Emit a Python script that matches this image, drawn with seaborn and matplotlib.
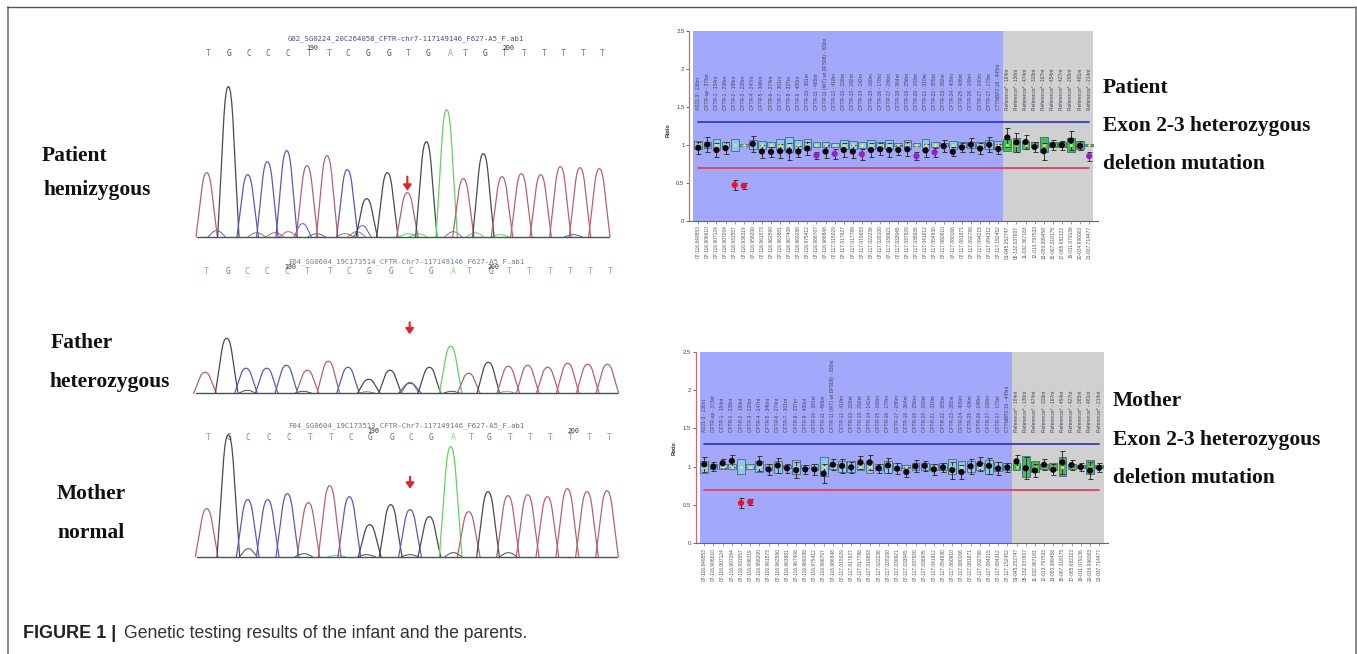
import matplotlib
matplotlib.use("Agg")
import matplotlib.pyplot as plt
from matplotlib.path import Path
from matplotlib.patches import PathPatch
import numpy as np
import pandas as pd
import seaborn as sns

W, H = 1357, 654

# ---------- sequencing traces ----------
patient_bases = list("TGCCCTTCGGTGATGTTTTTT")
parent_bases = list("TGCCCTTCGGCGATGTTTTTT")
patient_pos = [50,115,173,232,290,351,411,472,530,592,652,709,770,820,880,936,994,1052,1111,1170,1228]
patient_height = [64,150,62,75,86,71,81,67,38,64,44,95,127,58,83,60,63,62,70,69,68]
patient_label_pos = [55,118,177,235,295,358,417,475,535,597,656,715,780,827,885,944,1002,1062,1120,1179,1238]
patient_minor = [(80,6,'C'),(200,4,'T'),(255,4,'T'),(295,5,'T'),(338,13,'C'),(380,3,'C'),(465,3,'T'),(500,5,'T'),(517,11,'C'),(655,3,'A'),(685,3,'A'),(790,5,'T'),(855,4,'A'),(930,2,'A'),(1150,2,'C')]

father_pos = [45,110,168,230,289,352,415,474,536,600,660,718,782,836,895,955,1013,1073,1133,1193,1252]
father_height = [21,55,25,25,28,23,32,26,14,23,10,26,47,20,31,27,28,26,30,29,29]
father_label_pos = [50,115,170,230,290,353,420,478,538,604,663,722,790,837,903,958,1017,1081,1141,1201,1260]
father_minor = [(660,11,'T'),(172,3,'G'),(340,2,'G'),(785,2,'G'),(950,2,'A'),(530,1.5,'T')]

mother_pos = [50,115,173,233,292,355,419,478,539,602,660,718,782,836,894,954,1013,1072,1132,1191,1251]
mother_height = [48,122,57,57,63,54,71,60,32,52,47,40,110,45,65,61,62,60,68,65,66]
mother_label_pos = [55,118,173,238,298,361,423,482,540,606,664,724,790,843,897,961,1021,1080,1140,1199,1258]
mother_minor = [(175,8,'G'),(342,3,'G'),(530,2,'G'),(660,2,'G'),(790,4,'G'),(955,4,'G'),(440,1.5,'A')]

patient_title = "G02_SG0224_20C264058_CFTR-chr7-117149146_F627-A5_F.ab1"
father_title = "E04_SG0604_19C173514_CFTR-Chr7-117149146_F627-A5_F.ab1"
mother_title = "F04_SG0604_19C173513_CFTR-Chr7-117149146_F627-A5_F.ab1"

# ---------- ratio panels ----------
top_labels_patient = ["AS21-3 - 136nt","CFTR-up - 373nt","CFTR-1 - 154nt","CFTR-1 - 238nt","CFTR-2 - 199nt","CFTR-3 - 220nt",
    "CFTR-4 - 247nt","CFTR-5 - 346nt","CFTR-6 - 274nt","CFTR-7 - 301nt","CFTR-8 - 337nt","CFTR-9 - 400nt","CFTR-10 - 391nt",
    "CFTR-11 - 465nt","CFTR-11 (WT) wt DF508) - 330nt","CFTR-12 - 418nt","CFTR-13 - 226nt","CFTR-13 - 292nt","CFTR-14 - 142nt",
    "CFTR-15 - 160nt","CFTR-16 - 178nt","CFTR-17 - 286nt","CFTR-18 - 364nt","CFTR-19 - 256nt","CFTR-20 - 283nt","CFTR-21 - 310nt",
    "CFTR-22 - 355nt","CFTR-23 - 382nt","CFTR-24 - 409nt","CFTR-25 - 436nt","CFTR-26 - 148nt","CFTR-27 - 190nt","CFTR-27 - 173nt",
    "CTTNBP2-18 - 445nt","Reference* - 184nt","Reference* - 130nt","Reference* - 474nt","Reference* - 319nt","Reference* - 167nt",
    "Reference* - 454nt","Reference* - 427nt","Reference* - 265nt","Reference* - 481nt","Reference* - 214nt"]
bottom_labels = ["07-116.849553","07-116.906610","07-116.907124","07-116.907264","07-116.931557","07-116.936319","07-116.958200",
    "07-116.961573","07-116.962590","07-116.963881","07-116.967408","07-116.969288","07-116.975412","07-116.986767","07-116.986848",
    "07-117.015029","07-117.017627","07-117.017788","07-117.019653","07-117.022236","07-117.028100","07-117.030921","07-117.033945",
    "07-117.037820","07-117.038935","07-117.041912","07-117.054830","07-117.060910","07-117.080166","07-117.081971","07-117.092786",
    "07-117.094215","07-117.094312","07-117.152452","01-045.252747","05-132.037607","11-032.367183","12-013.797533","13-050.399458",
    "15-067.318175","17-065.682122","19-011.079136","20-034.996003","21-037.714477"]

patient_ratio = [.96,1.0,.93,.955,.47,.46,1.01,.91,.905,.915,.915,.91,.95,.86,.91,.88,.93,.91,.875,.93,.94,.93,.93,.94,.85,.925,.90,.98,.905,.965,1.0,.95,1.0,.945,1.095,1.03,1.035,.97,.915,.995,.995,1.055,.985,.85]
patient_err = [.08,.1,.09,.08,.06,.04,.1,.08,.07,.09,.11,.07,.09,.05,.08,.07,.09,.08,.07,.09,.08,.09,.06,.09,.05,.09,.06,.08,.06,.06,.09,.07,.1,.07,.13,.12,.09,.07,.11,.07,.06,.13,.06,.06]
patient_box = [.05,.04,.07,.03,.08,.015,.06,.05,.03,.07,.1,.06,.07,.03,.03,.025,.06,.05,.04,.06,.04,.06,.02,.06,.02,.07,.03,.02,.05,.03,.04,.04,.06,.05,.08,.09,.05,.03,.1,.03,.03,.09,.05,.015]
patient_state = ["n"]*44
for i_ in (4,5): patient_state[i_] = "del"
for i_ in (13,15,18,24,26,43): patient_state[i_] = "low"

mother_ratio = [1.03,1.0,1.045,1.075,.525,.54,1.045,.965,1.015,.98,.955,.965,.965,.91,1.025,1.01,.99,1.055,1.055,.98,1.015,.975,.93,1.005,1.01,.965,.99,.955,.93,1.005,1.035,1.01,.975,.99,1.07,.98,.95,1.025,.96,1.055,1.02,.995,.95,.985]
mother_err = [.1,.06,.06,.08,.06,.04,.1,.07,.1,.06,.1,.06,.07,.12,.07,.09,.07,.08,.1,.06,.1,.07,.06,.08,.07,.07,.06,.11,.09,.1,.09,.1,.08,.06,.08,.14,.08,.07,.07,.15,.07,.05,.11,.06]
mother_box = [.08,.03,.03,.03,.1,.03,.07,.04,.08,.02,.09,.02,.04,.12,.03,.07,.07,.05,.08,.04,.08,.05,.02,.05,.05,.04,.05,.1,.07,.07,.05,.09,.06,.05,.05,.14,.07,.03,.05,.12,.03,.02,.09,.02]
mother_state = ["n"]*44
for i_ in (4,5): mother_state[i_] = "del"

ratio_ticks = [0, 0.5, 1, 1.5, 2, 2.5]
ratio_tick_labels = ["0", "0.5", "1", "1.5", "2", "2.5"]
upper_limit = 1.3
lower_limit = 0.7

BASE_COLOR = {"T": "#b5636c", "G": "#4a4a4a", "C": "#5a5ab8", "A": "#62d262"}

sns.set_theme(style="white")
plt.rcParams["font.family"] = ["Liberation Sans", "DejaVu Sans"]
fig = plt.figure(figsize=(W/100, H/100), dpi=100, facecolor="white")


def rect(x0, y0, x1, y1):
    return [x0/W, 1-y1/H, (x1-x0)/W, (y1-y0)/H]


def ftext(x, y, s, **kw):
    kw.setdefault("va", "center")
    fig.text(x/W, 1-y/H, s, **kw)


def peak(ax, c, h, color, w=31, lw=0.9):
    verts = [(c-w, 0), (c-w*.5, h*.62), (c-w*.42, h), (c, h),
             (c+w*.42, h), (c+w*.5, h*.62), (c+w, 0)]
    codes = [Path.MOVETO] + [Path.CURVE4]*6
    ax.add_patch(PathPatch(Path(verts, codes), fill=False, ec=color, lw=lw, capstyle="round"))


def trace(x0, y_base, ymax, pos, height, bases, minor, lab_pos, lab_y, title, title_y, tick190, tick200, tick_y, arrow, txt_alpha=1.0, w=32):
    ax = fig.add_axes(rect(x0, y_base-ymax, x0+440, y_base+3))
    ax.set_xlim(0, 1320)
    ax.set_ylim(-3, ymax)
    ax.axis("off")
    base_df = pd.DataFrame({"x": [pos[0]-28, pos[-1]+30], "y": [0, 0]})
    sns.lineplot(data=base_df, x="x", y="y", color="#3a5a50", lw=1.0, ax=ax, legend=False)
    for c, h, b in minor:
        peak(ax, c, h, BASE_COLOR[b], w=26, lw=0.7)
    for c, h, b in zip(pos, height, bases):
        peak(ax, c, h, BASE_COLOR[b], w=w)
    for c, b in zip(lab_pos, bases):
        ftext(x0+c/3, lab_y, b, color=BASE_COLOR[b], fontsize=5.8, ha="center", family="DejaVu Sans Mono", alpha=txt_alpha)
    ftext(x0+648/3, title_y, title, color="#4a4a80", fontsize=5.2, ha="center", family="DejaVu Sans Mono", alpha=txt_alpha)
    ftext(x0+tick190/3, tick_y, "190", color="#333333", fontsize=4.8, ha="center", family="DejaVu Sans Mono")
    ftext(x0+tick200/3, tick_y, "200", color="#333333", fontsize=4.8, ha="center", family="DejaVu Sans Mono")
    ax.annotate("", xy=(arrow[0], arrow[2]), xytext=(arrow[0], arrow[1]),
                arrowprops=dict(arrowstyle="-|>,head_width=0.2,head_length=0.28", color="#e8202a", lw=1.5, shrinkA=0, shrinkB=0),
                annotation_clip=False)
    return ax


trace(190, 236.7, 175, patient_pos, patient_height, patient_bases, patient_minor, patient_label_pos, 53.5,
      patient_title, 39, 367, 955, 47.5, (652, 60, 46))
trace(190, 393.3, 110, father_pos, father_height, parent_bases, father_minor, father_label_pos, 272,
      father_title, 262, 300, 910, 267, (659, 71, 59), .75, w=34)
trace(190, 556.7, 135, mother_pos, mother_height, parent_bases, mother_minor, mother_label_pos, 437,
      mother_title, 425.5, 550, 1150, 431, (660, 80, 68), .8, w=34)


def ratio_panel(x_first, dx, x_left, x_split, x_right, x_axis, x_end, y_top, y_zero, ratio, err, box, state, ylab_x, ylab_y):
    """x_* in figure pixels; data x is the probe index."""
    to_i = lambda px: (px-x_first)/dx
    ax = fig.add_axes(rect(x_axis, y_top, x_end, y_zero))
    ax.set_xlim(to_i(x_axis), to_i(x_end))
    ax.set_ylim(0, 2.5)
    ax.set_facecolor("none")
    idx = list(range(len(ratio)))
    n_test = 34
    ax.axvspan(to_i(x_left), to_i(x_split), color="#a3a8fb", lw=0, zorder=0)
    ax.axvspan(to_i(x_split), to_i(x_right), color="#d0d0d0", lw=0, zorder=0)

    colors = ["#8ec6ee"]*n_test + ["#42bf52"]*(len(ratio)-n_test)
    ax.bar(idx, [2*b for b in box], bottom=[1-b for b in box], width=.85, color=colors,
           edgecolor="#3f6a80", lw=0.6, zorder=2)
    ax.errorbar(idx, ratio, yerr=err, fmt="none", ecolor="#333333", elinewidth=0.7, capsize=1.8, capthick=0.7, zorder=3)
    sns.lineplot(x=[idx[0], idx[-1]], y=[upper_limit]*2, color="#3437d8", lw=1.3, ax=ax, zorder=3)
    sns.lineplot(x=[idx[0], idx[-1]], y=[lower_limit]*2, color="#e2405c", lw=1.3, ax=ax, zorder=3)
    df = pd.DataFrame({"i": idx, "ratio": ratio, "state": state})
    sns.scatterplot(data=df, x="i", y=[1]*len(idx), color="#f2e85a", marker="o", s=4, lw=0, ax=ax, zorder=4, legend=False)
    sns.scatterplot(data=df, x="i", y="ratio", hue="state",
                    palette={"n": "#120408", "del": "#f0102a", "low": "#9a1fc0"},
                    s=20, lw=0, ax=ax, zorder=5, legend=False)
    for s in ("top", "right"):
        ax.spines[s].set_visible(False)
    ax.spines["left"].set_color("#d06a70")
    ax.spines["left"].set_linewidth(0.9)
    ax.spines["bottom"].set_color("#666666")
    ax.spines["bottom"].set_linewidth(0.8)
    ax.set_yticks(ratio_ticks, ratio_tick_labels, fontsize=4.3, color="#444444")
    ax.tick_params(axis="y", length=2.5, width=0.6, pad=1, color="#555555", left=True)
    ax.set_xticks(idx, bottom_labels, rotation=90, fontsize=3.5, color="#555555")
    ax.tick_params(axis="x", length=2, width=0.4, pad=1.5, color="#555555", bottom=True)
    ax.set_xlabel("")
    ax.set_ylabel("")
    for i, lab in zip(idx, top_labels_patient):
        ax.text(i, 1.45, lab, rotation=90, fontsize=3.5, color="#444455", ha="center", va="bottom", zorder=6)
    ftext(ylab_x, ylab_y, "Ratio", rotation=90, fontsize=4, color="#333333", ha="center", fontweight="bold")
    return ax


ratio_panel(698.3, 9.09, 693.3, 1002.7, 1093.3, 689.3, 1098, 30.7, 220.7,
            patient_ratio, patient_err, patient_box, patient_state, 668, 130)
ratio_panel(704.3, 9.183, 700, 1012, 1103.7, 695.7, 1108.3, 351.7, 543.3,
            mother_ratio, mother_err, mother_box, mother_state, 674, 448)

# ---------- annotation text ----------
serif = dict(family="Liberation Serif", fontweight="bold", color="#111111", fontsize=15.5)
for x, y, s in [(42, 156, "Patient"), (43, 190, "hemizygous"), (51, 343, "Father"), (49, 382, "heterozygous"),
                (57, 494, "Mother"), (57, 533, "normal"),
                (1103, 88, "Patient"), (1103, 126, "Exon 2-3 heterozygous"), (1103, 164, "deletion mutation"),
                (1113, 401, "Mother"), (1113, 440, "Exon 2-3 heterozygous"), (1113, 478, "deletion mutation")]:
    ftext(x, y, s, **serif)

ftext(23, 638, "FIGURE 1 |", fontsize=13, fontweight="bold", color="#222222", family="Liberation Sans", va="baseline")
ftext(124, 638, "Genetic testing results of the infant and the parents.", fontsize=12.7, color="#333333", family="Liberation Sans", va="baseline")

# ---------- outer frame ----------
frame = fig.add_axes([0, 0, 1, 1], facecolor="none", zorder=-1)
frame.set_xlim(0, W)
frame.set_ylim(H, 0)
frame.axis("off")
frame.plot([7.5, 7.5], [6.5, H], color="#808080", lw=1.3)
frame.plot([7, 1356], [6.5, 6.5], color="#555555", lw=1.0)
frame.plot([1355.5, 1355.5], [6.5, H], color="#808080", lw=1.3)

fig.savefig("out.png", dpi=100, facecolor="white")
